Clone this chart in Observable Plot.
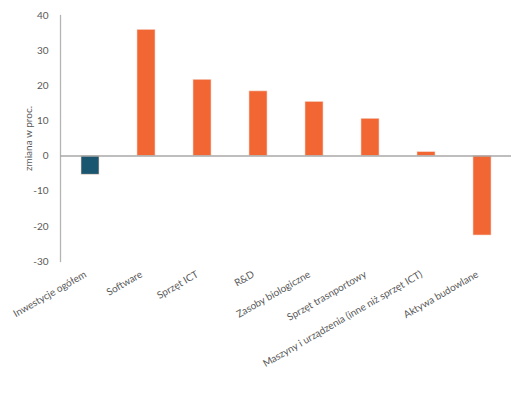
<!DOCTYPE html>
<html><head><meta charset="utf-8">
<script src="https://cdn.jsdelivr.net/npm/d3@7"></script>
<script src="https://cdn.jsdelivr.net/npm/@observablehq/plot@0.6"></script>
<style>body{margin:0;background:#fff}</style>
</head><body><div id="chart"></div>
<script>
const categories = ["Inwestycje ogółem","Software","Sprzęt ICT","R&D","Zasoby biologiczne","Sprzęt trasnportowy","Maszyny i urządzenia (inne niż sprzęt ICT)","Aktywa budowlane"];
const values = [-5.3, 35.9, 21.7, 18.4, 15.4, 10.6, 1.1, -22.6];
const groups = ["total","part","part","part","part","part","part","part"];
const yTicks = [-30,-20,-10,0,10,20,30,40];
const data = categories.map((c,i)=>({cat:c, v:values[i], g:groups[i]}));
const chart = Plot.plot({
  width: 526, height: 395,
  marginLeft: 60, marginRight: 15, marginTop: 15, marginBottom: 134,
  style: {fontFamily: "Lato, sans-serif", fontSize: "10px", color: "#595959", background: "#fff"},
  x: {domain: categories, paddingInner: 0.68, paddingOuter: 0.34, align: 0.5},
  y: {domain: [-30, 40]},
  color: {domain: ["total","part"], range: ["#1b5670","#f26634"]},
  marks: [
    Plot.barY(data, {x: "cat", y: "v", fill: "g", stroke: "#f5d3c5", strokeWidth: 0.6}),
    Plot.frame({anchor: "left", stroke: "#b4b4b4", strokeWidth: 1.3}),
    Plot.ruleY([0], {stroke: "#a8a8a8", strokeWidth: 1.5}),
    Plot.axisY({ticks: yTicks, tickFormat: d => String(d), tickSize: 0, tickPadding: 12, label: "zmiana w proc.", labelAnchor: "center", labelArrow: "none", labelOffset: 36, fontSize: 10}),
    Plot.axisX({tickSize: 0, tickPadding: 12, dx: -5, tickRotate: -30, label: null, fontSize: 10})
  ]
});
document.getElementById("chart").appendChild(chart);
</script></body></html>
